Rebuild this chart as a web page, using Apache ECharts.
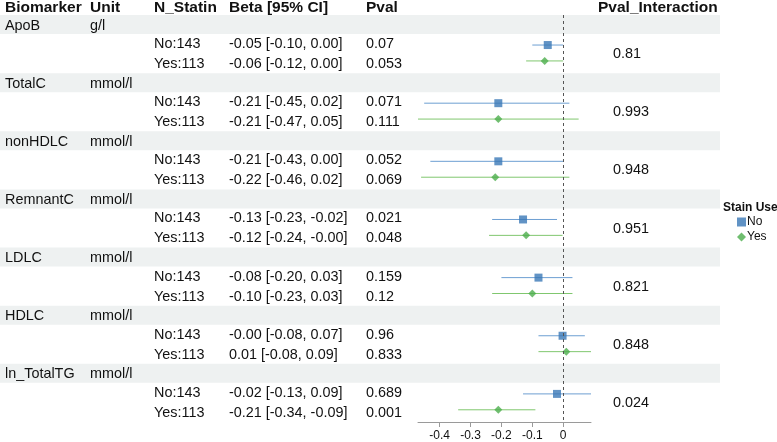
<!DOCTYPE html>
<html lang="en">
<head>
<meta charset="UTF-8">
<title>Forest plot</title>
<script src="https://cdn.jsdelivr.net/npm/echarts@6/dist/echarts.min.js"></script>
<style>
	html,body{margin:0;padding:0;background:#fff;}
	#main{width:777px;height:442px;}
</style>
</head>
<body>
<div id="main"></div>
<script>
// table / forest data
var biomarkers = ['ApoB', 'TotalC', 'nonHDLC', 'RemnantC', 'LDLC', 'HDLC', 'ln_TotalTG'];
var units = ['g/l', 'mmol/l', 'mmol/l', 'mmol/l', 'mmol/l', 'mmol/l', 'mmol/l'];
var groups = ['No', 'Yes'];
var nStatin = ['No:143', 'Yes:113'];
var betaNo = [-0.05, -0.21, -0.21, -0.13, -0.08, -0.002, -0.02];
var loNo = [-0.10, -0.45, -0.43, -0.23, -0.20, -0.08, -0.13];
var hiNo = [0.00, 0.02, 0.00, -0.02, 0.03, 0.07, 0.09];
var pNo = ['0.07', '0.071', '0.052', '0.021', '0.159', '0.96', '0.689'];
var betaYes = [-0.06, -0.21, -0.22, -0.12, -0.10, 0.01, -0.21];
var loYes = [-0.12, -0.47, -0.46, -0.24, -0.23, -0.08, -0.34];
var hiYes = [0.00, 0.05, 0.02, -0.002, 0.03, 0.09, -0.09];
var pYes = ['0.053', '0.111', '0.069', '0.048', '0.12', '0.833', '0.001'];
var pInteraction = ['0.81', '0.993', '0.948', '0.951', '0.821', '0.848', '0.024'];
var xTicks = [-0.4, -0.3, -0.2, -0.1, 0];
var headers = ['Biomarker', 'Unit', 'N_Statin', 'Beta [95% CI]', 'Pval', 'Pval_Interaction'];

var FONT = '"Liberation Sans", Arial, Helvetica, sans-serif';
var blue = '#3a78b6', blueLine = '#6d9fd2';
var green = '#4cae4c', greenLine = '#80c76f';

// row layout in y units: each biomarker block = 3 units
var ROW_NO = 1.55, ROW_YES = 2.37;

function f2(v){ return v.toFixed(2); }

var barsNo = [], barsYes = [], ptsNo = [], ptsYes = [];
for (var i = 0; i < biomarkers.length; i++) {
	barsNo.push([loNo[i], hiNo[i], 3 * i + ROW_NO]);
	barsYes.push([loYes[i], hiYes[i], 3 * i + ROW_YES]);
	ptsNo.push([betaNo[i], 3 * i + ROW_NO]);
	ptsYes.push([betaYes[i], 3 * i + ROW_YES]);
}

function renderBar(params, api){
	var a = api.coord([api.value(0), api.value(2)]);
	var b = api.coord([api.value(1), api.value(2)]);
	return {
		type: 'line',
		shape: {x1: a[0], y1: a[1], x2: b[0], y2: b[1]},
		style: {stroke: api.visual('color'), lineWidth: 1}
	};
}

var chart = echarts.init(document.getElementById('main'));
chart.setOption({
	animation: false,
	textStyle: {fontFamily: FONT},
	grid: {left: 418, right: 186, top: 15, bottom: 20},
	xAxis: {
		type: 'value', min: -0.47, max: 0.09, position: 'bottom',
		axisLine: {onZero: false, lineStyle: {color: '#9a9a9a', width: 1}},
		axisTick: {show: true, length: 5, customValues: xTicks, lineStyle: {color: '#9a9a9a'}},
		axisLabel: {customValues: xTicks, fontSize: 12, color: '#111', margin: 8, fontFamily: FONT},
		splitLine: {show: false}
	},
	yAxis: {type: 'value', inverse: true, min: 0, max: 21, show: false},
	legend: {
		data: [{name: 'No', icon: 'rect'}, {name: 'Yes', icon: 'diamond'}],
		orient: 'vertical', left: 732, top: 211,
		itemWidth: 9, itemHeight: 9, itemGap: 3,
		textStyle: {fontSize: 12, color: '#111', fontFamily: FONT, padding: [0, 0, 0, -4]}
	},
	series: [
		{name: 'ciNo', type: 'custom', renderItem: renderBar, data: barsNo, encode: {x: [0, 1], y: 2},
			itemStyle: {color: blueLine}, z: 3},
		{name: 'ciYes', type: 'custom', renderItem: renderBar, data: barsYes, encode: {x: [0, 1], y: 2},
			itemStyle: {color: greenLine}, z: 3},
		{name: 'No', type: 'scatter', symbol: 'rect', symbolSize: 8, data: ptsNo,
			itemStyle: {color: blue}, z: 4,
			markLine: {silent: true, symbol: 'none', label: {show: false},
				lineStyle: {type: [3, 3], color: '#555', width: 1}, data: [{xAxis: 0}]}},
		{name: 'Yes', type: 'scatter', symbol: 'diamond', symbolSize: 8, data: ptsYes,
			itemStyle: {color: green}, z: 4}
	]
});

// table text and shaded bands, placed on the same row scale as the plot
function rowY(v){ return chart.convertToPixel({yAxisIndex: 0}, v); }
function txt(x, y, s, bold, size){
	return {type: 'text', x: x, y: y, z: 10,
		style: {text: s, fill: '#111', verticalAlign: 'middle',
			font: (bold ? 'bold ' : '') + (size || 14.4) + 'px ' + FONT}};
}

var cols = [5, 90, 154, 229, 366, 598];
var els = [];
for (var h = 0; h < headers.length; h++) els.push(txt(cols[h], 8, headers[h], true, 15.5));
for (var k = 0; k < biomarkers.length; k++) {
	var bandTop = rowY(3 * k), bandBot = rowY(3 * k + 0.98);
	els.push({type: 'rect', z: -1, shape: {x: 0, y: bandTop, width: 720, height: bandBot - bandTop},
		style: {fill: '#eef1f1'}});
	els.push(txt(cols[0], rowY(3 * k + 0.55), biomarkers[k]));
	els.push(txt(cols[1], rowY(3 * k + 0.55), units[k]));
	var yNo = rowY(3 * k + 1.5), yYes = rowY(3 * k + 2.53);
	els.push(txt(cols[2], yNo, nStatin[0]));
	els.push(txt(cols[2], yYes, nStatin[1]));
	els.push(txt(cols[3], yNo, f2(betaNo[k]) + ' [' + f2(loNo[k]) + ', ' + f2(hiNo[k]) + ']'));
	els.push(txt(cols[3], yYes, f2(betaYes[k]) + ' [' + f2(loYes[k]) + ', ' + f2(hiYes[k]) + ']'));
	els.push(txt(cols[4], yNo, pNo[k]));
	els.push(txt(cols[4], yYes, pYes[k]));
	els.push(txt(613, rowY(3 * k + 2.02), pInteraction[k]));
}
els.push(txt(723, 208, 'Stain Use', true, 12));
chart.setOption({graphic: {elements: els}});
</script>
</body>
</html>
